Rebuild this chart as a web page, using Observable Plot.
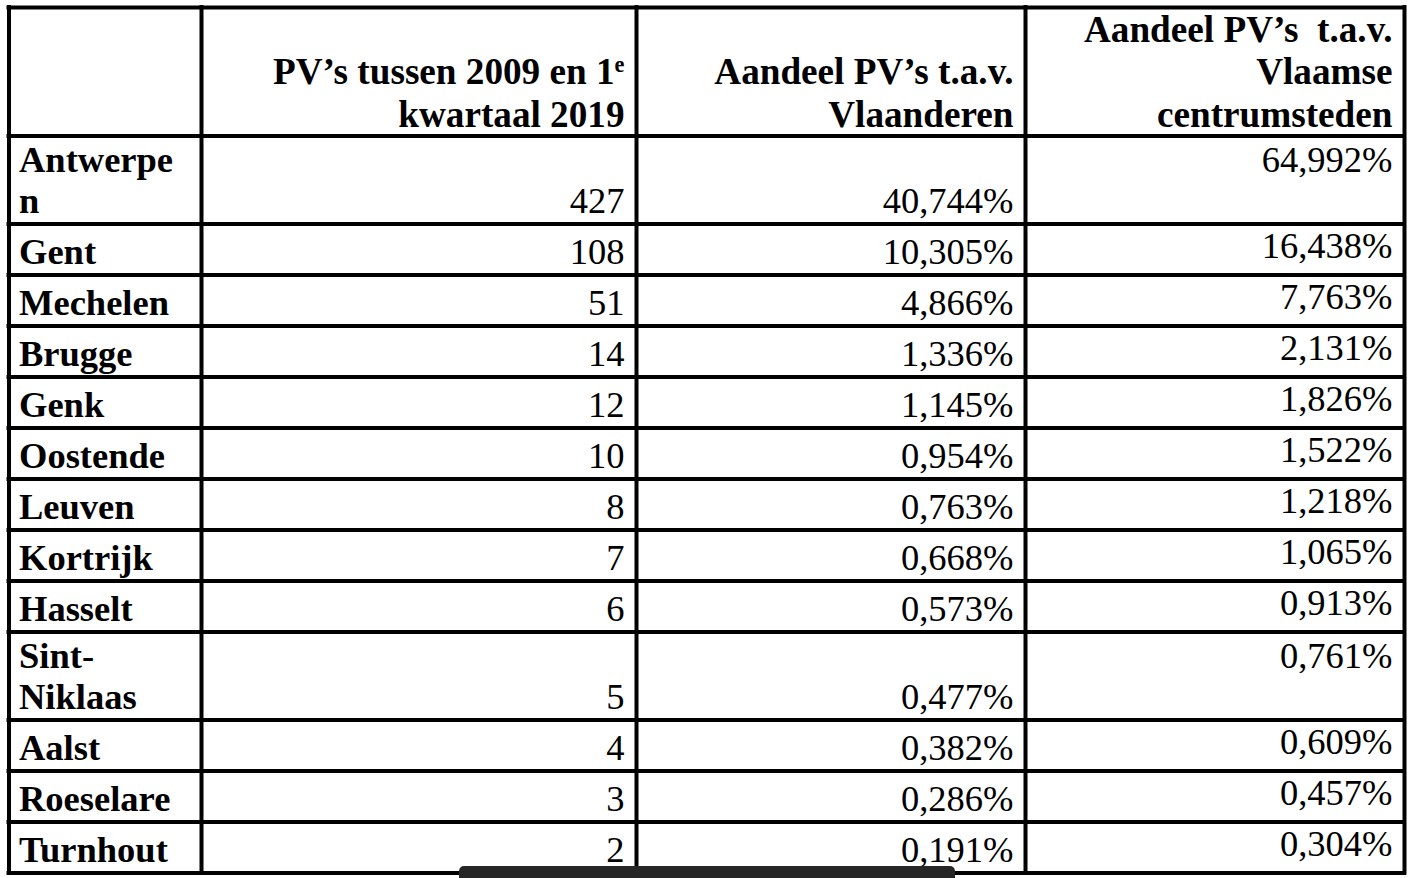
<!DOCTYPE html>
<html><head><meta charset="utf-8">
<script src="https://cdn.jsdelivr.net/npm/d3@7"></script>
<script src="https://cdn.jsdelivr.net/npm/@observablehq/plot@0.6"></script>
<style>
html,body{margin:0;padding:0;background:#fff;}
svg text{white-space:pre;}
</style></head><body><div id="chart"></div>
<script>
// ---- data ----
const headers = ["", "PV’s tussen 2009 en 1e\nkwartaal 2019", "Aandeel PV’s t.a.v.\nVlaanderen", "Aandeel PV’s  t.a.v.\nVlaamse\ncentrumsteden"];
const cityLabels = ["Antwerpe\nn","Gent","Mechelen","Brugge","Genk","Oostende","Leuven","Kortrijk","Hasselt","Sint-\nNiklaas","Aalst","Roeselare","Turnhout"];
const pvCount = [427,108,51,14,12,10,8,7,6,5,4,3,2];
const shareFlanders = [40.744,10.305,4.866,1.336,1.145,0.954,0.763,0.668,0.573,0.477,0.382,0.286,0.191];
const shareCentres = [64.992,16.438,7.763,2.131,1.826,1.522,1.218,1.065,0.913,0.761,0.609,0.457,0.304];

// ---- layout ----
const W = 1412, H = 878;
const colEdges = [8.5, 201, 636, 1025, 1404];
const tableTop = 7, headerH = 128.5;
const rowH = n => n > 1 ? 88 : 51;
const pad = 12, labelPad = 10, stroke = 4;
const font = 36.5, headFont = 37.2;
const family = "'Liberation Serif','Times New Roman',Times,serif";
const overlay = {x1: 459, x2: 955, y1: 866, y2: 882}; // dark bar at the bottom of the screenshot

const fmt = v => v.toFixed(3).replace(".", ",") + "%";

// build rows
const headerBottom = tableTop + headerH;
let acc = headerBottom;
const rows = cityLabels.map((label, i) => {
  const lines = label.split("\n").length;
  const top = acc; acc += rowH(lines);
  return {label, lines, top, bottom: acc, pv: pvCount[i], fl: fmt(shareFlanders[i]), vc: fmt(shareCentres[i])};
});
const tableBottom = acc;
const hLines = [tableTop, headerBottom, ...rows.map(r => r.bottom)];
const head = headers.map((h, i) => ({h, i})).filter(d => d.h);

const textOpts = {fontSize: font, fontFamily: family, lineHeight: 1.13, lineAnchor: "bottom", fill: "black"};

const plot = Plot.plot({
  width: W, height: H, margin: 0,
  x: {domain: [0, W], range: [0, W], axis: null},
  y: {domain: [0, H], range: [0, H], axis: null},
  style: {background: "white", overflow: "visible"},
  marks: [
    Plot.ruleY(hLines, {y: d => d, x1: colEdges[0] - stroke/2, x2: colEdges[4] + stroke/2, stroke: "black", strokeWidth: stroke}),
    Plot.ruleX(colEdges, {x: d => d, y1: tableTop - stroke/2, y2: tableBottom + stroke/2, stroke: "black", strokeWidth: stroke}),
    Plot.text(head, {...textOpts, fontSize: headFont, x: d => colEdges[d.i + 1] - pad, y: headerBottom - 9.5, text: "h", textAnchor: "end", fontWeight: "bold"}),
    Plot.text(rows, {...textOpts, x: colEdges[0] + labelPad, y: d => d.bottom - 11, text: "label", textAnchor: "start", fontWeight: "bold"}),
    Plot.text(rows, {...textOpts, x: colEdges[2] - pad, y: d => d.bottom - 11, text: d => String(d.pv), textAnchor: "end"}),
    Plot.text(rows, {...textOpts, x: colEdges[3] - pad, y: d => d.bottom - 11, text: "fl", textAnchor: "end"}),
    Plot.text(rows, {...textOpts, x: colEdges[4] - pad, y: d => d.top + (d.lines > 1 ? 36 : 33.5), text: "vc", textAnchor: "end"}),
    Plot.rect([overlay], {x1: "x1", x2: "x2", y1: "y1", y2: "y2", fill: "#262626", rx: 5})
  ]
});

// superscript "e" in "1e"
plot.querySelectorAll("tspan, text").forEach(el => {
  if (el.childElementCount === 0 && el.textContent === "PV’s tussen 2009 en 1e") {
    el.textContent = "PV’s tussen 2009 en 1";
    const sup = document.createElementNS("http://www.w3.org/2000/svg", "tspan");
    sup.setAttribute("baseline-shift", "super");
    sup.setAttribute("font-size", "0.6em");
    sup.textContent = "e";
    el.appendChild(sup);
  }
});
document.getElementById("chart").appendChild(plot);
</script></body></html>
